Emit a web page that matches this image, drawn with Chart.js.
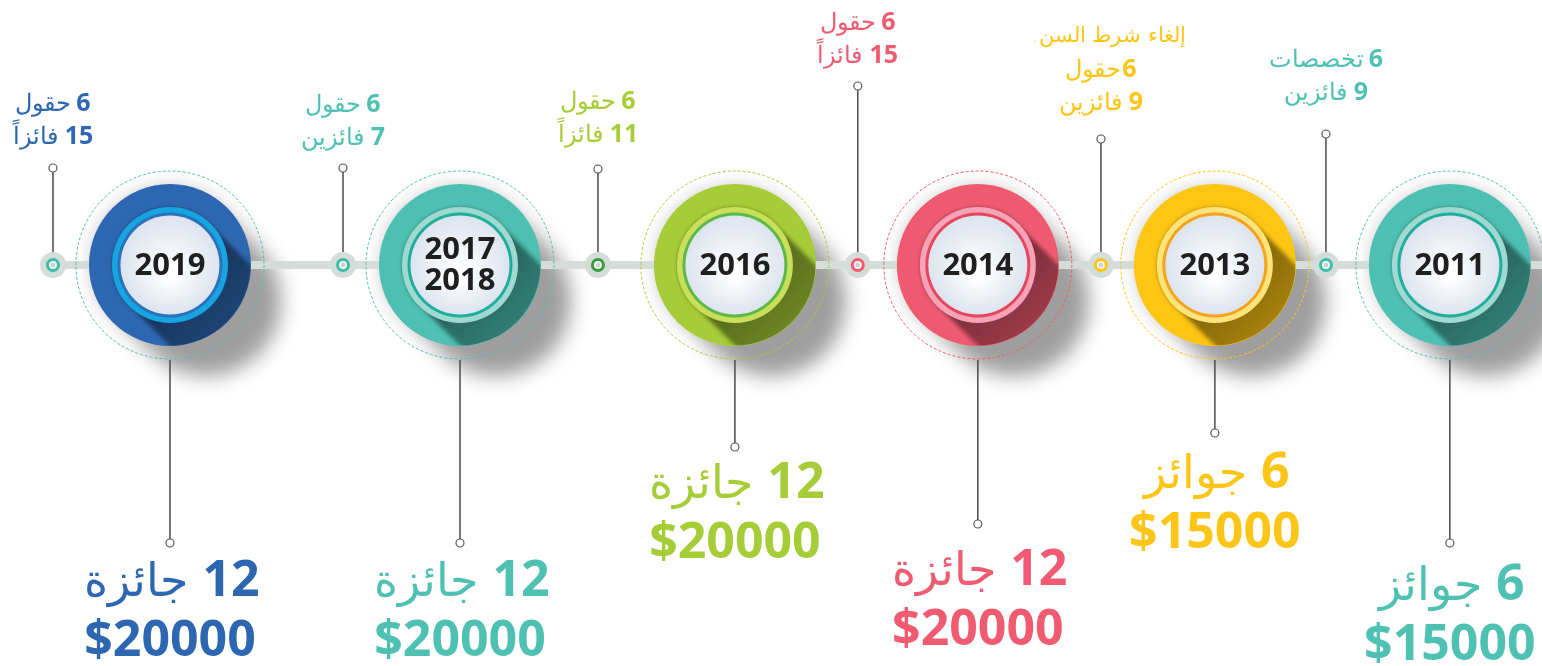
<!DOCTYPE html>
<html>
<head>
<meta charset="utf-8">
<script src="https://cdn.jsdelivr.net/npm/chart.js@4.4.1/dist/chart.umd.min.js"></script>
<style>
html,body{margin:0;padding:0;background:#fff;}
#wrap{width:1542px;height:666px;position:relative;}
</style>
</head>
<body>
<div id="wrap"><canvas id="c"></canvas></div>
<script>
// ---------------- data ----------------
const years = ['2019', '2017\n2018', '2016', '2014', '2013', '2011'];
const timelinePos = [0, 1.133, 2.207, 3.156, 4.082, 5];        // milestone position along the timeline
const markerPos = [-0.457, 0.676, 1.672, 2.687, 3.637, 4.516];  // info marker position along the timeline
const prizeCounts = [12, 12, 12, 12, 6, 6];
const prizeWords = ['جائزة', 'جائزة', 'جائزة', 'جائزة', 'جوائز', 'جوائز'];
const prizeAmounts = [20000, 20000, 20000, 20000, 15000, 15000];
const fieldCounts = [6, 6, 6, 6, 6, 6];
const fieldWords = ['حقول', 'حقول', 'حقول', 'حقول', 'حقول', 'تخصصات'];
const winnerCounts = [15, 7, 11, 15, 9, 9];
const winnerWords = ['فائزاً', 'فائزين', 'فائزاً', 'فائزاً', 'فائزين', 'فائزين'];
const notes = ['', '', '', '', 'إلغاء شرط السن.', ''];

// ---------------- layout (px relative to the timeline) ----------------
const layout = {
  stemTop: [97, 97, 96, 179, 126, 131],
  topLabelBase: [121, 120, 123, 202, 155, 165],
  stemBottom: [278, 278, 182, 259, 168, 278],
  bottomLabelBase: [331, 331, 233, 320, 223, 335]
};

// ---------------- styles ----------------
const palette = [
  {main:'#2e67b1', ring:'#16a5e1', border:'#2a72bc', dash:'#4dc0b3', text:'#2e67b1', top:'#2e67b1', marker:'#3dbdab'},
  {main:'#4dc0b3', ring:'#9fd9d2', border:'#1fae9b', dash:'#4dc0b3', text:'#4fc1b3', top:'#4fc1b3', marker:'#3dbdab'},
  {main:'#a6cd37', ring:'#c9df5a', border:'#5bb947', dash:'#a6cd37', text:'#a6cd37', top:'#a6cd37', marker:'#3a9a3c'},
  {main:'#f05a70', ring:'#f6a2b7', border:'#e6455e', dash:'#f05a70', text:'#f05b72', top:'#f05b72', marker:'#f05a70'},
  {main:'#fec513', ring:'#fde37c', border:'#f6a31c', dash:'#fec513', text:'#fdc515', top:'#fdc515', marker:'#fec513'},
  {main:'#4dc0b3', ring:'#9fd9d2', border:'#1fae9b', dash:'#4dc0b3', text:'#4fc1b3', top:'#4fc1b3', marker:'#3dbdab'}
];
const NUMF = "'Open Sans', 'DejaVu Sans', sans-serif";
const ARF = "'DejaVu Sans', sans-serif";
const X_MIN = -0.664, X_MAX = 5.36;

function shade(hex, f) {
  const n = parseInt(hex.slice(1), 16);
  const r = (n >> 16) & 255, g = (n >> 8) & 255, b = n & 255;
  return `rgb(${Math.round(r*f)},${Math.round(g*f)},${Math.round(b*f)})`;
}
function sweep(ctx, cx, cy, r, d) {
  ctx.beginPath();
  ctx.arc(cx, cy, r, 0.75*Math.PI, 1.75*Math.PI);
  ctx.arc(cx + d, cy + d, r, -0.25*Math.PI, 0.75*Math.PI);
  ctx.closePath();
}
function mixedLine(ctx, cx, base, num, word, numFont, wordFont, color, gap) {
  ctx.font = numFont; const wn = ctx.measureText(num).width;
  ctx.font = wordFont; ctx.direction = 'rtl'; const ww = ctx.measureText(word).width;
  const total = wn + gap + ww;
  const right = cx + total / 2;
  ctx.fillStyle = color;
  ctx.textBaseline = 'alphabetic';
  ctx.textAlign = 'right';
  ctx.direction = 'ltr';
  ctx.font = numFont; ctx.fillText(num, right, base);
  ctx.direction = 'rtl';
  ctx.font = wordFont; ctx.fillText(word, right - wn - gap, base);
  ctx.direction = 'ltr';
}
function pin(ctx, x, y) {
  ctx.beginPath(); ctx.arc(x, y, 4, 0, 2*Math.PI);
  ctx.fillStyle = '#fff'; ctx.fill();
  ctx.lineWidth = 1.2; ctx.strokeStyle = '#555'; ctx.stroke();
}

const R = 81, RI = 58, RB = 52.5, RW = 49.5, RD = 94;

const timelinePlugin = {
  id: 'timelineArt',
  beforeDatasetsDraw(chart) {
    const {ctx, scales: {x, y}} = chart;
    const y0 = y.getPixelForValue(0);
    ctx.save();
    // soft drop shadows of the milestone discs
    timelinePos.forEach((p) => {
      const cx = x.getPixelForValue(p);
      ctx.save();
      ctx.filter = 'blur(10px)';
      ctx.fillStyle = 'rgba(0,0,0,0.38)';
      sweep(ctx, cx, y0, R - 6, 36);
      ctx.fill();
      ctx.restore();
    });
    // top stems
    markerPos.forEach((p, i) => {
      const mx = x.getPixelForValue(p);
      const top = y.getPixelForValue(layout.stemTop[i]);
      ctx.beginPath(); ctx.moveTo(mx, top + 4); ctx.lineTo(mx, y0);
      ctx.lineWidth = 1.5; ctx.strokeStyle = '#4a4a4a'; ctx.stroke();
    });
    ctx.restore();
  },
  afterDatasetsDraw(chart) {
    const {ctx, scales: {x, y}} = chart;
    const y0 = y.getPixelForValue(0);
    ctx.save();
    // info markers (inner rings)
    markerPos.forEach((p, i) => {
      const mx = x.getPixelForValue(p);
      ctx.beginPath(); ctx.arc(mx, y0, 5.5, 0, 2*Math.PI);
      ctx.fillStyle = '#f4f6f5'; ctx.fill();
      ctx.lineWidth = 3; ctx.strokeStyle = palette[i].marker; ctx.stroke();
      ctx.beginPath(); ctx.arc(mx, y0, 2.2, 0, 2*Math.PI);
      ctx.fillStyle = '#c9d1cd'; ctx.fill();
      // top pin + labels
      const top = y.getPixelForValue(layout.stemTop[i]);
      pin(ctx, mx, top);
      const col = palette[i].top;
      const base2 = y.getPixelForValue(layout.topLabelBase[i]);
      const nf = `bold 25px ${NUMF}`, wf = `300 24px ${ARF}`;
      mixedLine(ctx, mx, base2, String(winnerCounts[i]), winnerWords[i], nf, wf, col, 7);
      mixedLine(ctx, mx, base2 - 33, String(fieldCounts[i]), fieldWords[i], nf, wf, col, notes[i] ? 1 : 5);
      if (notes[i]) {
        ctx.font = `300 21px ${ARF}`; ctx.fillStyle = col;
        ctx.direction = 'rtl'; ctx.textAlign = 'center'; ctx.textBaseline = 'alphabetic';
        ctx.fillText(notes[i], mx + 8, base2 - 68);
        ctx.direction = 'ltr';
      }
    });
    // milestone discs
    timelinePos.forEach((p, i) => {
      const st = palette[i];
      const cx = x.getPixelForValue(p), cy = y0;
      ctx.beginPath(); ctx.arc(cx, cy, R, 0, 2*Math.PI);
      ctx.fillStyle = st.main; ctx.fill();
      // long inner shadow
      ctx.save();
      ctx.beginPath(); ctx.arc(cx, cy, R - 0.5, 0, 2*Math.PI); ctx.clip();
      ctx.filter = 'blur(2px)';
      const g = ctx.createLinearGradient(cx, cy, cx + R*0.75, cy + R*0.75);
      g.addColorStop(0, shade(st.main, 0.48));
      g.addColorStop(1, shade(st.main, 0.66));
      ctx.fillStyle = g;
      sweep(ctx, cx, cy, RI - 1, R * 1.3);
      ctx.fill();
      ctx.restore();
      // inner ring
      ctx.beginPath(); ctx.arc(cx, cy, RI, 0, 2*Math.PI);
      ctx.fillStyle = st.ring; ctx.fill();
      ctx.beginPath(); ctx.arc(cx, cy, RB, 0, 2*Math.PI);
      ctx.fillStyle = st.border; ctx.fill();
      const wg = ctx.createRadialGradient(cx, cy + 10, 4, cx, cy, RW);
      wg.addColorStop(0, '#ffffff'); wg.addColorStop(1, '#dde4ee');
      ctx.beginPath(); ctx.arc(cx, cy, RW, 0, 2*Math.PI);
      ctx.fillStyle = wg; ctx.fill();
      // dashed halo
      ctx.setLineDash([3, 2]);
      ctx.lineWidth = 1; ctx.strokeStyle = st.dash;
      ctx.beginPath(); ctx.arc(cx, cy, RD, 0, 2*Math.PI); ctx.stroke();
      ctx.setLineDash([]);
      // year
      ctx.fillStyle = '#1f1f1f'; ctx.font = `bold 31px ${NUMF}`;
      ctx.textAlign = 'center'; ctx.textBaseline = 'middle';
      const lines = years[i].split('\n');
      lines.forEach((t, k) => ctx.fillText(t, cx, cy + 1 + (k - (lines.length - 1) / 2) * 31));
      // bottom stem + labels
      const bottom = y.getPixelForValue(-layout.stemBottom[i]);
      ctx.beginPath(); ctx.moveTo(cx, cy + RD + 1); ctx.lineTo(cx, bottom - 4);
      ctx.lineWidth = 1.5; ctx.strokeStyle = '#4a4a4a'; ctx.stroke();
      pin(ctx, cx, bottom);
      const b1 = y.getPixelForValue(-layout.bottomLabelBase[i]);
      mixedLine(ctx, cx + 2, b1, String(prizeCounts[i]), prizeWords[i], `bold 50px ${NUMF}`, `300 46px ${ARF}`, st.text, 14);
      ctx.font = `bold 50px ${NUMF}`; ctx.fillStyle = st.text;
      ctx.textAlign = 'center'; ctx.textBaseline = 'alphabetic'; ctx.direction = 'ltr';
      ctx.fillText('$' + prizeAmounts[i], cx, b1 + 60);
    });
    ctx.restore();
  }
};

new Chart(document.getElementById('c'), {
  type: 'scatter',
  data: {
    datasets: [
      {
        label: 'timeline', type: 'line', order: 10,
        data: [{x: markerPos[0], y: 0}, {x: X_MAX, y: 0}],
        borderColor: '#d5ddd8', borderWidth: 8, pointRadius: 0, borderCapStyle: 'butt'
      },
      {
        label: 'markers', order: 5,
        data: markerPos.map(p => ({x: p, y: 0})),
        pointRadius: 13, pointHoverRadius: 13, backgroundColor: '#d5ddd8', borderWidth: 0
      },
      {
        label: 'milestones', order: 1,
        data: timelinePos.map(p => ({x: p, y: 0})),
        pointRadius: 0, pointHoverRadius: 0
      }
    ]
  },
  options: {
    responsive: true, maintainAspectRatio: false, animation: false, events: [],
    layout: {padding: 0, autoPadding: false},
    scales: {
      x: {type: 'linear', min: X_MIN, max: X_MAX, display: false},
      y: {type: 'linear', min: -401, max: 265, display: false}
    },
    plugins: {legend: {display: false}, tooltip: {enabled: false}}
  },
  plugins: [timelinePlugin]
});
</script>
</body>
</html>
